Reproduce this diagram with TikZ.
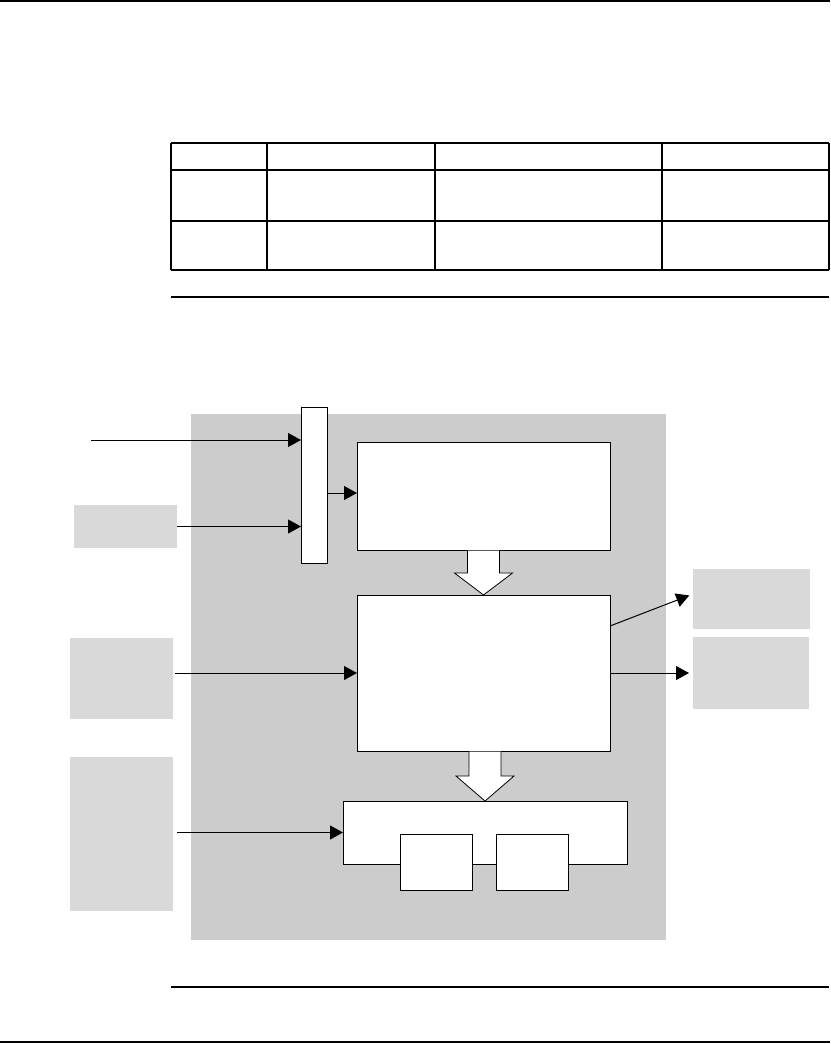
\documentclass[tikz,border=0pt]{standalone}
\usetikzlibrary{arrows.meta, positioning, calc}
\definecolor{panelgray}{HTML}{CCCCCC}
\definecolor{extgray}{HTML}{D9D9D9}

\begin{document}
\begin{tikzpicture}[x=1pt, y=-1pt,
    plain/.style={draw, fill=white, line width=1pt, inner sep=0pt, outer sep=0pt, anchor=north west},
    ext/.style={fill=extgray, inner sep=0pt, outer sep=0pt, anchor=north west},
    link/.style={line width=1pt, -{Triangle[length=13pt, width=14pt]}},
    rule/.style={line width=1.3pt},
    fat/.style={draw, fill=white, line width=0.8pt, line join=miter}]
    \useasboundingbox (0,0) rectangle (830,1044);
    % Page rules
    \draw[rule] (0,1) -- (830,1);
    \draw[rule] (0,1042) -- (830,1042);
    \draw[rule] (171,297) -- (829,297);
    \draw[rule] (171,987) -- (829,987);
    % Table
    \foreach \x in {171,267,435,662,829}
        \draw[rule] (\x,143) -- (\x,270);
    \foreach \y in {143,170,221,270}
        \draw[rule] (171,\y) -- (829,\y);
    % Module area
    \node[fill=panelgray, inner sep=0pt, anchor=north west, minimum width=475pt, minimum height=526pt] (panel) at (191,414) {};
    % Inner blocks
    \node[plain, minimum width=26pt, minimum height=156pt] (bar) at (301,407) {};
    \node[plain, minimum width=253pt, minimum height=108pt] (boxA) at (357,442) {};
    \node[plain, minimum width=253pt, minimum height=156pt] (boxB) at (357,595) {};
    \node[plain, minimum width=284pt, minimum height=63pt] (boxC) at (343,801) {};
    \node[plain, minimum width=72pt, minimum height=56pt] (subA) at (400,834) {};
    \node[plain, minimum width=72pt, minimum height=56pt] (subB) at (496,834) {};
    % Outside blocks
    \node[ext, minimum width=103pt, minimum height=43pt] (src2) at (74,505) {};
    \node[ext, minimum width=103pt, minimum height=81pt] (src3) at (70,638) {};
    \node[ext, minimum width=103pt, minimum height=154pt] (src4) at (70,757) {};
    \node[ext, minimum width=117pt, minimum height=60pt] (dst1) at (693,569) {};
    \node[ext, minimum width=116pt, minimum height=72pt] (dst2) at (693,637) {};
    \coordinate (src1) at (91,440);
    % Block arrows
    \foreach \src/\dst/\hd in {boxA/boxB/22, boxB/boxC/25}
        \draw[fat] let \p1 = (\dst.north), \p2 = (\src.south) in
            (\x1-16pt,\y2-0.5pt) -- (\x1-16pt,\y1+\hd pt) -- (\x1-29pt,\y1+\hd pt) -- (\p1)
            -- (\x1+29pt,\y1+\hd pt) -- (\x1+16pt,\y1+\hd pt) -- (\x1+16pt,\y2-0.5pt);
    % Connectors
    \draw[link] (src1) -- (src1 -| bar.west);
    \draw[link] (src2.east) -- (src2.east -| bar.west);
    \draw[link] ([shift={(0,-3)}]bar.east |- boxA.west) -- ([shift={(0,-3)}]boxA.west);
    \draw[link] ([shift={(2,0)}]src3.east |- boxB.west) -- (boxB.west);
    \draw[link] ([shift={(4,0)}]src4.east |- boxC.west) -- (boxC.west);
    \draw[link, shorten >=4pt] ([shift={(0,31)}]boxB.north east) -- ([shift={(0,-5)}]dst1.west);
    \draw[link, shorten >=4pt] (boxB.east |- dst2.west) -- (dst2.west);
\end{tikzpicture}
\end{document}
